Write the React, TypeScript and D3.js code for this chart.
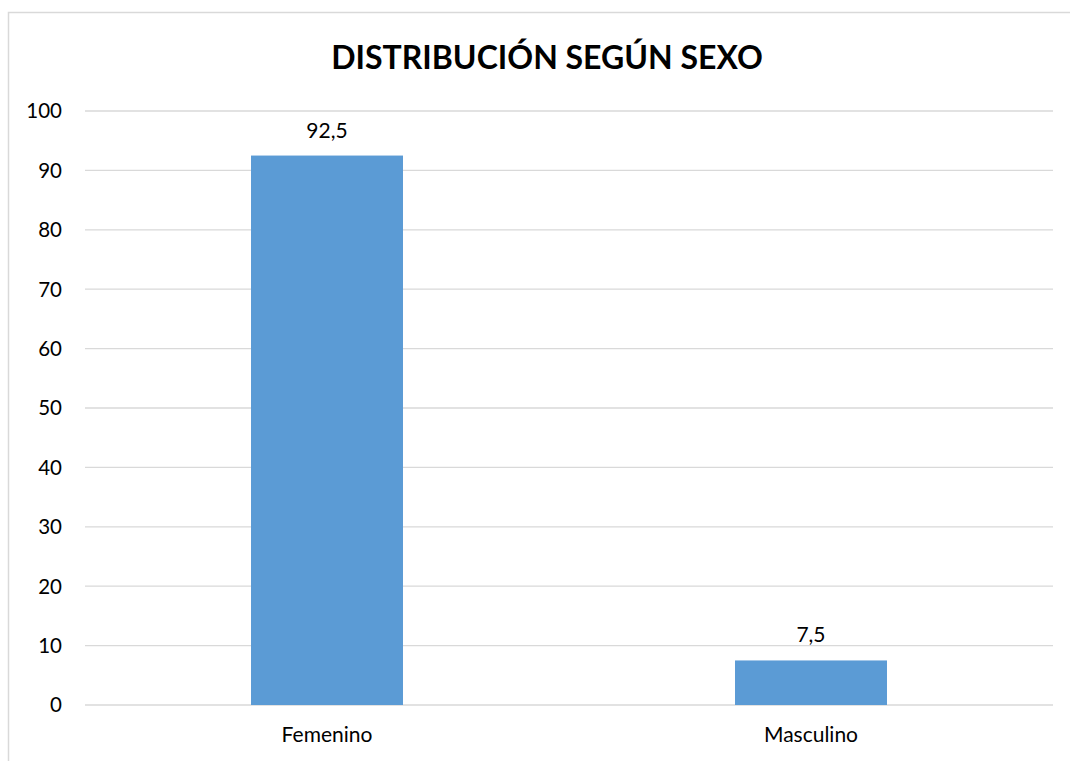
import React, { useEffect, useRef } from 'react';
import * as d3 from 'd3';

const categories = ['Femenino', 'Masculino'];
const values = [92.5, 7.5];
const yTicks = [0, 10, 20, 30, 40, 50, 60, 70, 80, 90, 100];
const title = 'DISTRIBUCIÓN SEGÚN SEXO';

const W = 1070;
const H = 761;
const FONT = 'Lato, "Open Sans", sans-serif';

const App: React.FC = () => {
  const svgRef = useRef<SVGSVGElement>(null);

  useEffect(() => {
    const svg = d3.select(svgRef.current);
    if (!svgRef.current) return;
    svg.selectAll('*').remove();

    const left = 85;
    const right = 1053;
    const top = 111;
    const bottom = 705;

    // outer chart frame (runs off the picture on the right and bottom)
    svg.append('rect')
      .attr('x', 8.5).attr('y', 12.5)
      .attr('width', 1200).attr('height', 900)
      .attr('fill', '#fff').attr('stroke', '#d9d9d9').attr('stroke-width', 1.5);

    const x = d3.scaleBand<string>().domain(categories).range([left, right])
      .paddingInner(0.686).paddingOuter(0.343);
    const y = d3.scaleLinear().domain([0, 100]).range([bottom, top]);

    // gridlines
    svg.append('g').selectAll('line').data(yTicks).join('line')
      .attr('x1', left).attr('x2', right)
      .attr('y1', (d) => y(d)).attr('y2', (d) => y(d))
      .attr('stroke', '#d9d9d9').attr('stroke-width', 1.3);

    // y tick labels
    svg.append('g').selectAll('text').data(yTicks).join('text')
      .attr('x', 62).attr('y', (d) => y(d))
      .attr('dy', '0.36em')
      .attr('text-anchor', 'end')
      .attr('font-family', FONT).attr('font-size', 20.5).attr('fill', '#000')
      .text((d) => String(d));

    const data = categories.map((c, i) => ({ c, v: values[i] }));

    svg.append('g').selectAll('rect').data(data).join('rect')
      .attr('x', (d) => x(d.c)!)
      .attr('width', x.bandwidth())
      .attr('y', (d) => y(d.v))
      .attr('height', (d) => y(0) - y(d.v))
      .attr('fill', '#5b9bd5');

    // data labels
    svg.append('g').selectAll('text').data(data).join('text')
      .attr('x', (d) => x(d.c)! + x.bandwidth() / 2)
      .attr('y', (d) => y(d.v) - 18)
      .attr('text-anchor', 'middle')
      .attr('font-family', FONT).attr('font-size', 21).attr('fill', '#000')
      .text((d) => String(d.v).replace('.', ','));

    // category labels
    svg.append('g').selectAll('text').data(categories).join('text')
      .attr('x', (d) => x(d)! + x.bandwidth() / 2)
      .attr('y', 742)
      .attr('text-anchor', 'middle')
      .attr('font-family', FONT).attr('font-size', 21).attr('fill', '#000')
      .text((d) => d);

    svg.append('text')
      .attr('x', 547).attr('y', 69)
      .attr('text-anchor', 'middle')
      .attr('font-family', FONT).attr('font-size', 32).attr('font-weight', 'bold')
      .attr('fill', '#000')
      .text(title);
  }, []);

  return (
    <svg
      ref={svgRef}
      width={W}
      height={H}
      style={{ position: 'absolute', left: 0, top: 0, display: 'block', background: '#fff' }}
    />
  );
};

export default App;
